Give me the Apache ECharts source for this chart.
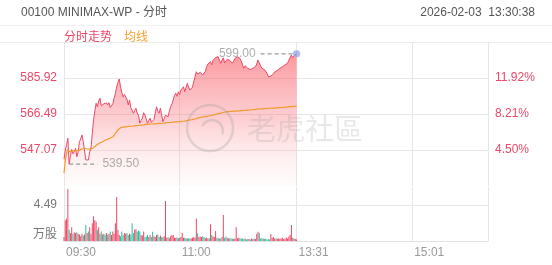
<!DOCTYPE html>
<html>
<head>
<meta charset="utf-8">
<script src="https://cdn.jsdelivr.net/npm/echarts@6/dist/echarts.min.js"></script>
<style>
html,body{margin:0;padding:0;background:#fff;}
#chart{width:552px;height:265px;}
</style>
</head>
<body>
<div id="chart"></div>
<script>
// ---------- data ----------
const titleText = '00100 MINIMAX-WP - 分时';
const timeText = '2026-02-03  13:30:38';
const xLabels = ['09:30', '11:00', '13:31', '15:01'];
const priceTickLabels = ['547.07', '566.49', '585.92'];
const pctTickLabels = ['4.50%', '8.21%', '11.92%'];
const volTickLabels = ['万股', '4.49'];
const volTickValues = [0, 4.49];
const prevClose = 523.51;

const price = [
  542.0, 547.0, 550.0, 553.4, 539.5, 544.0, 547.4, 545.0, 546.1, 548.0,
  543.4, 546.0, 551.5, 553.0, 555.2, 551.5, 552.5, 541.7, 542.5, 541.7,
  546.0, 548.0, 556.0, 563.3, 568.0, 572.3, 570.4, 573.5, 575.0, 571.0,
  570.4, 572.0, 571.4, 572.5, 571.4, 572.6, 570.0, 570.4, 572.0, 575.0,
  577.5, 581.2, 583.5, 585.4, 581.2, 578.0, 575.8, 577.0, 577.7, 574.5,
  571.4, 574.0, 570.0, 569.6, 566.9, 568.5, 569.6, 567.0, 565.9, 561.5,
  563.0, 564.2, 567.2, 566.0, 565.0, 561.5, 563.0, 564.2, 562.0, 561.5,
  563.5, 564.2, 570.4, 568.0, 566.9, 569.6, 566.0, 562.3, 564.0, 565.9,
  566.5, 565.0, 568.0, 570.4, 572.0, 574.0, 576.5, 577.7, 576.0, 578.5,
  577.0, 579.4, 580.0, 581.2, 578.5, 577.7, 583.1, 581.0, 579.4, 579.4,
  581.0, 584.0, 586.6, 589.3, 588.0, 588.5, 589.0, 589.3, 587.5, 586.6,
  589.5, 592.0, 593.5, 592.8, 594.7, 593.0, 595.5, 596.5, 597.0, 596.0,
  597.4, 595.5, 593.9, 595.5, 596.8, 594.0, 593.9, 596.0, 596.5, 595.5,
  594.7, 593.9, 595.0, 596.5, 597.0, 597.4, 597.4, 596.5, 595.0, 593.0,
  591.2, 592.5, 592.0, 591.2, 591.5, 590.5, 590.5, 591.2, 591.0, 592.0,
  593.5, 595.6, 594.0, 592.5, 591.2, 591.2, 590.5, 589.5, 588.5, 586.5,
  585.8, 587.0, 587.5, 588.0, 589.3, 589.0, 590.0, 590.5, 591.2, 591.2,
  592.0, 592.5, 593.0, 593.5, 593.9, 595.5, 597.0, 598.3, 596.8, 598.0,
  598.5, 599.0
];

const avgPrice = [
  534.6, 541.0, 545.5, 547.5, 546.0, 546.3, 546.5, 546.5, 546.6, 546.8,
  546.7, 546.8, 547.0, 547.3, 547.6, 547.8, 548.0, 547.8, 547.6, 547.5,
  547.5, 547.6, 547.8, 548.3, 549.0, 549.6, 550.0, 550.4, 550.8, 551.1,
  551.5, 551.9, 552.3, 552.6, 552.9, 553.2, 553.5, 553.8, 554.2, 555.0,
  556.0, 556.9, 557.9, 558.8, 559.1, 559.3, 559.4, 559.5, 559.6, 559.7,
  559.8, 559.8, 559.9, 559.9, 560.0, 560.1, 560.2, 560.3, 560.3, 560.4,
  560.5, 560.5, 560.6, 560.7, 560.9, 560.9, 561.0, 561.0, 561.1, 561.1,
  561.2, 561.2, 561.3, 561.3, 561.4, 561.5, 561.5, 561.5, 561.6, 561.8,
  561.8, 561.9, 561.9, 562.0, 562.0, 562.1, 562.2, 562.2, 562.3, 562.3,
  562.4, 562.5, 562.6, 562.6, 562.7, 562.8, 563.0, 563.1, 563.3, 563.4,
  563.5, 563.6, 563.8, 564.1, 564.3, 564.5, 564.7, 564.8, 564.9, 565.0,
  565.2, 565.3, 565.4, 565.5, 565.7, 565.8, 565.9, 566.1, 566.3, 566.5,
  566.7, 566.9, 567.0, 567.2, 567.3, 567.5, 567.6, 567.7, 567.8, 567.8,
  567.9, 567.9, 568.0, 568.0, 568.1, 568.1, 568.2, 568.2, 568.3, 568.3,
  568.4, 568.4, 568.5, 568.6, 568.6, 568.7, 568.8, 568.8, 568.9, 569.0,
  569.1, 569.2, 569.2, 569.3, 569.3, 569.4, 569.4, 569.5, 569.5, 569.6,
  569.6, 569.6, 569.7, 569.7, 569.7, 569.7, 569.8, 569.8, 569.9, 569.9,
  570.0, 570.1, 570.2, 570.2, 570.3, 570.4, 570.5, 570.5, 570.6, 570.7,
  570.7, 570.8
];

const volume = [
  0.5, 2.6, 2.8, 6.5, 1.4, 1.0, 1.7, 0.9, 1.1, 1.0,
  1.1, 0.9, 0.8, 0.6, 0.9, 0.7, 0.8, 2.0, 1.0, 1.2,
  1.7, 0.9, 2.2, 3.1, 2.6, 2.4, 1.4, 1.7, 0.9, 1.2,
  0.8, 0.9, 0.75, 1.0, 0.8, 0.9, 1.2, 0.75, 1.2, 0.9,
  2.2, 5.5, 1.4, 0.75, 0.6, 1.2, 0.75, 1.0, 0.9, 1.0,
  0.75, 0.9, 0.8, 2.2, 1.0, 1.4, 1.5, 1.2, 1.3, 1.2,
  0.75, 0.7, 1.2, 0.5, 0.55, 0.75, 0.5, 0.75, 0.5, 1.16,
  0.6, 0.5, 0.75, 0.8, 0.5, 0.7, 0.5, 0.5, 0.6, 5.0,
  0.4, 0.5, 0.35, 0.6, 0.75, 0.75, 0.4, 0.4, 0.45, 0.35,
  0.4, 0.5, 1.0, 0.4, 0.4, 0.35, 0.3, 0.3, 0.35, 0.3,
  0.4, 0.5, 0.4, 2.8, 0.96, 0.5, 0.55, 0.5, 0.6, 0.5,
  0.35, 0.4, 0.3, 0.35, 2.1, 0.75, 0.55, 0.5, 1.25, 0.4,
  0.35, 0.3, 0.3, 0.5, 3.24, 0.4, 0.55, 0.4, 0.3, 0.35,
  0.3, 0.3, 0.25, 0.3, 1.7, 0.35, 0.4, 0.3, 0.3, 0.3,
  0.25, 0.3, 0.2, 0.25, 0.25, 0.2, 0.3, 0.25, 0.3, 0.25,
  0.9, 1.16, 1.0, 0.3, 0.35, 0.3, 0.25, 0.3, 0.2, 0.25,
  0.2, 0.87, 0.4, 0.5, 0.3, 0.35, 0.3, 0.3, 0.25, 0.3,
  0.4, 0.25, 0.3, 0.45, 0.3, 0.55, 0.75, 2.0, 0.4, 0.3,
  0.25, 0.2
];

// ---------- axis categories (trading minutes) ----------
function hm(m) { const h = Math.floor(m / 60), mm = m % 60; return (h < 10 ? '0' : '') + h + ':' + (mm < 10 ? '0' : '') + mm; }
const times = [];
for (let m = 9 * 60 + 30; m <= 11 * 60 + 59; m++) times.push(hm(m));
for (let m = 13 * 60; m <= 16 * 60; m++) times.push(hm(m));

// ---------- axis ranges ----------
const pInterval = 19.43;
const pMin = 527.64;
const pMax = pMin + 4 * pInterval;
const vInterval = 4.49;
const vMax = 6.735;

const RED = '#ee4766';
const GREEN = '#25c29d';
const FONT = 'Arial, "Liberation Sans", "Noto Sans CJK SC", sans-serif';

function nearestLabel(v, vals, labels) {
  for (let i = 0; i < vals.length; i++) if (Math.abs(vals[i] - v) < 0.6) return labels[i];
  return '';
}
const priceTickVals = priceTickLabels.map(Number);

const minVal = Math.min(...price), minIdx = price.indexOf(minVal);
const maxVal = Math.max(...price), maxIdx = price.lastIndexOf(maxVal);
const lastIdx = price.length - 1;

const volData = volume.map((v, i) => {
  const prev = i === 0 ? prevClose : price[i - 1];
  return { value: v, itemStyle: { color: price[i] >= prev ? RED : GREEN } };
});

const splitInt = (idx, val) => xLabels.indexOf(val) >= 0 || idx === times.length - 1;

const chart = echarts.init(document.getElementById('chart'), null, { renderer: 'canvas' });
chart.setOption({
  animation: false,
  textStyle: { fontFamily: FONT },
  title: [
    { text: titleText, left: 16, top: 2, textStyle: { fontSize: 12, fontWeight: 'normal', color: '#555', fontFamily: FONT } },
    { text: timeText, right: 12, top: 2, textStyle: { fontSize: 12, fontWeight: 'normal', color: '#555', fontFamily: FONT } }
  ],
  legend: {
    left: 54, top: 27, icon: 'none', itemWidth: 0, itemHeight: 8, itemGap: 7,
    selectedMode: false,
    textStyle: { fontSize: 12, fontFamily: FONT },
    data: [
      { name: '分时走势', textStyle: { color: RED } },
      { name: '均线', textStyle: { color: '#f5a131' } }
    ]
  },
  graphic: [
    { type: 'line', shape: { x1: 0, y1: 25.5, x2: 552, y2: 25.5 }, style: { stroke: '#f2f2f2', lineWidth: 1 }, silent: true },
    { type: 'line', shape: { x1: 0, y1: 42.5, x2: 552, y2: 42.5 }, style: { stroke: '#ebebeb', lineWidth: 1 }, silent: true },
    { type: 'circle', shape: { cx: 210, cy: 128, r: 23 }, style: { fill: 'none', stroke: 'rgba(150,150,150,0.28)', lineWidth: 2.5 }, z: 100, silent: true },
    { type: 'arc', shape: { cx: 212, cy: 131, r: 11, startAngle: 3.6, endAngle: 6.6 }, style: { fill: 'none', stroke: 'rgba(150,150,150,0.28)', lineWidth: 2.5 }, z: 100, silent: true },
    { type: 'text', left: 247, top: 114, style: { text: '老虎社區', fontSize: 29, fill: 'rgba(150,150,150,0.22)', fontFamily: '"Noto Sans CJK TC", "Noto Sans CJK SC", sans-serif' }, z: 100, silent: true }
  ],
  grid: [
    { left: 64, right: 64, top: 42, height: 144 },
    { left: 64, right: 64, top: 187, height: 54 }
  ],
  xAxis: [
    {
      type: 'category', gridIndex: 0, data: times, boundaryGap: false,
      axisLine: { show: false }, axisTick: { show: false }, axisLabel: { show: false },
      splitLine: { show: true, interval: splitInt, lineStyle: { color: '#e6e6e6', width: 1 } }
    },
    {
      type: 'category', gridIndex: 1, data: times, boundaryGap: false,
      axisLine: { show: true, lineStyle: { color: '#e2e2e2' } }, axisTick: { show: false },
      axisLabel: { interval: (idx, val) => xLabels.indexOf(val) >= 0, align: 'left', color: '#999', fontSize: 12, margin: 6, padding: [0, 0, 0, 2], fontFamily: FONT },
      splitLine: { show: true, interval: splitInt, lineStyle: { color: '#e6e6e6', width: 1 } }
    }
  ],
  yAxis: [
    {
      type: 'value', gridIndex: 0, position: 'left', min: pMin, max: pMax, interval: pInterval,
      axisLine: { show: false }, axisTick: { show: false },
      axisLabel: { color: RED, fontSize: 12, margin: 7, fontFamily: FONT, formatter: v => nearestLabel(v, priceTickVals, priceTickLabels) },
      splitLine: { show: true, lineStyle: { color: ['transparent', '#e6e6e6', '#e6e6e6', '#e6e6e6', '#ebebeb'], width: 1 } }
    },
    {
      type: 'value', gridIndex: 0, position: 'right', min: pMin, max: pMax, interval: pInterval,
      axisLine: { show: false }, axisTick: { show: false }, splitLine: { show: false },
      axisLabel: { color: RED, fontSize: 12, margin: 7, fontFamily: FONT, formatter: v => nearestLabel(v, priceTickVals, pctTickLabels) }
    },
    {
      type: 'value', gridIndex: 1, min: 0, max: vMax, interval: vInterval,
      axisLine: { show: false }, axisTick: { show: false },
      axisLabel: {
        color: '#777', fontSize: 12, margin: 7, fontFamily: FONT,
        formatter: v => { const i = volTickValues.indexOf(+v.toFixed(2)); if (i < 0) return ''; return i === 0 ? '{u|' + volTickLabels[0] + '}' : volTickLabels[i]; },
        rich: { u: { fontSize: 12, color: '#777', padding: [0, 0, 12, 0], fontFamily: FONT } }
      },
      splitLine: { show: true, lineStyle: { color: ['transparent', '#e6e6e6', 'transparent'], width: 1 } }
    }
  ],
  series: [
    {
      name: '分时走势', type: 'line', xAxisIndex: 0, yAxisIndex: 0, data: price,
      symbol: 'none', smooth: false, z: 2,
      lineStyle: { color: RED, width: 1 },
      itemStyle: { color: RED },
      areaStyle: {
        color: new echarts.graphic.LinearGradient(0, 0, 0, 1, [
          { offset: 0, color: 'rgba(248,84,92,0.85)' },
          { offset: 0.5, color: 'rgba(249,120,128,0.5)' },
          { offset: 1, color: 'rgba(252,200,200,0.08)' }
        ])
      }
    },
    {
      name: '均线', type: 'line', xAxisIndex: 0, yAxisIndex: 0, data: avgPrice,
      symbol: 'none', z: 3,
      lineStyle: { color: '#f39a2b', width: 1.2 },
      itemStyle: { color: '#f39a2b' }
    },
    {
      name: 'vol', type: 'bar', xAxisIndex: 1, yAxisIndex: 2, data: volData,
      barWidth: 1, barGap: '0%'
    },
    {
      name: 'minDash', type: 'line', xAxisIndex: 0, yAxisIndex: 0,
      data: [[minIdx, minVal], [minIdx + 22, minVal]], symbol: 'none', z: 4,
      lineStyle: { color: '#999', width: 1.3, type: [4, 3] }
    },
    {
      name: 'maxDash', type: 'line', xAxisIndex: 0, yAxisIndex: 0,
      data: [[maxIdx - 28, maxVal], [maxIdx - 3, maxVal]], symbol: 'none', z: 4,
      lineStyle: { color: '#999', width: 1.3, type: [4, 3] }
    },
    {
      name: 'labels', type: 'scatter', xAxisIndex: 0, yAxisIndex: 0, symbolSize: 0, z: 5,
      data: [
        { value: [minIdx + 22, minVal], label: { show: true, position: 'right', distance: 5, formatter: minVal.toFixed(2) } },
        { value: [maxIdx - 28, maxVal], label: { show: true, position: 'left', distance: 5, formatter: maxVal.toFixed(2) } }
      ],
      label: { color: '#999', fontSize: 12, fontFamily: FONT }
    },
    {
      name: 'last', type: 'scatter', xAxisIndex: 0, yAxisIndex: 0, z: 6,
      data: [[lastIdx, price[lastIdx]]], symbolSize: 7,
      itemStyle: { color: 'rgba(140,158,232,0.9)', borderColor: 'rgba(190,200,245,0.8)', borderWidth: 1 }
    }
  ]
});
</script>
</body>
</html>
